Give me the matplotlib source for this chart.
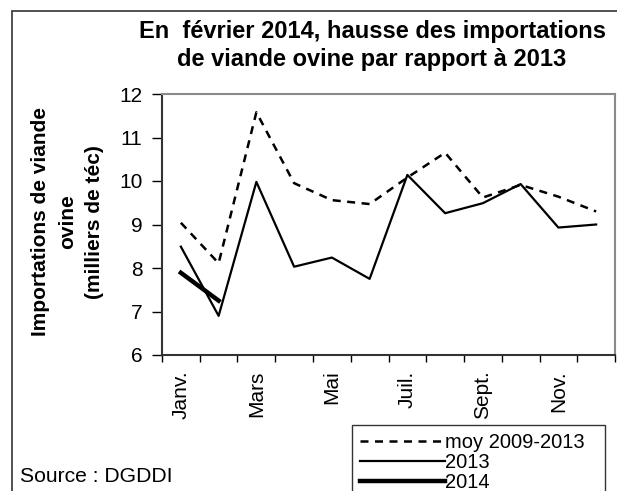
import matplotlib
matplotlib.use("Agg")
import matplotlib.pyplot as plt
from matplotlib.patches import Rectangle

plt.rcParams["font.family"] = ["Liberation Sans", "DejaVu Sans"]

# data (milliers de téc)
months = ["Janv.", "Févr.", "Mars", "Avr.", "Mai", "Juin",
          "Juil.", "Août", "Sept.", "Oct.", "Nov.", "Déc."]
shown_labels = ["Janv.", "Mars", "Mai", "Juil.", "Sept.", "Nov."]
moy_2009_2013 = [9.04, 8.11, 11.58, 9.95, 9.56, 9.47, 10.08, 10.65, 9.62, 9.91, 9.64, 9.30]
y2013 = [8.49, 6.90, 9.98, 8.03, 8.24, 7.75, 10.14, 9.26, 9.49, 9.93, 8.93, 9.00]
y2014 = [7.89, 7.25]

W, H = 617, 491
fig = plt.figure(figsize=(W / 100, H / 100), dpi=100)

# outer frame
fig.patches.append(Rectangle((12 / W, -0.1), 1.2, 1 - 11 / H + 0.1,
                             transform=fig.transFigure, fill=False,
                             edgecolor="#333333", lw=1.2))

ax = fig.add_axes([162 / W, 1 - 355 / H, (615 - 162) / W, (355 - 94) / H])

x = list(range(len(months)))
ax.plot(x, moy_2009_2013, color="black", lw=1.8, linestyle=(0, (3.2, 2.6)),
        label="moy 2009-2013")
ax.plot(x, y2013, color="black", lw=1.6, label="2013")
ax.plot(x[:len(y2014)], y2014, color="black", lw=3.2, label="2014")

ax.set_xlim(-0.5, 11.5)
ax.set_ylim(6, 12)
ax.set_yticks(range(6, 13))
ax.tick_params(axis="y", direction="out", length=7, width=1, labelsize=15, pad=7)

ax.set_xticks([months.index(m) for m in shown_labels])
ax.set_xticklabels(shown_labels, rotation=90, fontsize=15, va="top")
ax.set_xticks([i - 0.5 for i in range(13)], minor=True)
ax.tick_params(axis="x", which="major", length=0, pad=11)
ax.tick_params(axis="x", which="minor", length=5, width=1, direction="out")

for side in ["left", "bottom"]:
    ax.spines[side].set_color("#333333")
    ax.spines[side].set_linewidth(1.5)
for side in ["top", "right"]:
    ax.spines[side].set_color("#8a8a8a")
    ax.spines[side].set_linewidth(1.5)

ax.set_ylabel("Importations de viande\novine\n(milliers de téc)",
              fontsize=15, fontweight="bold", linespacing=1.55)
ax.yaxis.set_label_coords(-0.128, 0.51)

fig.text(372 / W, 1 - 20 / H,
         "En  février 2014, hausse des importations\nde viande ovine par rapport à 2013",
         ha="center", va="top", fontsize=17, fontweight="bold", linespacing=1.3)

fig.text(20 / W, 1 - 482 / H, "Source : DGDDI", fontsize=15.2, va="baseline")

leg = fig.legend(loc="upper left",
                 bbox_to_anchor=(352 / W, 0, (605 - 352) / W, 1 - 425 / H),
                 mode="expand", fontsize=14.5, handlelength=4.2, handletextpad=0.0,
                 labelspacing=0.05, borderpad=0.4, borderaxespad=0,
                 fancybox=False, frameon=True)
leg.get_frame().set_edgecolor("black")
leg.get_frame().set_linewidth(1)

fig.savefig("out.png", dpi=100)
